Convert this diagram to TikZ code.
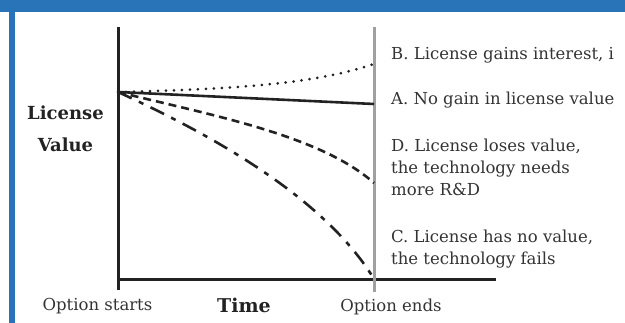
\documentclass[tikz,border=0pt]{standalone}
\usepackage{fontspec}
\setmainfont{DejaVu Serif}
\definecolor{band}{RGB}{41,116,184}
\definecolor{ink}{RGB}{34,34,34}
\definecolor{txt}{RGB}{51,51,51}
\definecolor{endline}{RGB}{160,160,160}
\begin{document}
\begin{tikzpicture}[x=1pt,y=-1pt,
  axis/.style={draw=ink,line width=3pt},
  marker/.style={draw=endline,line width=3pt},
  curve/.style={draw=ink,line width=2.6pt},
  lbl/.style={text=txt,inner sep=0pt,align=left,
    font=\fontsize{16.5}{22}\selectfont},
  axiscap/.style={text=txt,inner sep=0pt,font=\fontsize{16.5}{22}\selectfont},
  heading/.style={text=ink,inner sep=0pt,align=center,
    font=\fontsize{18}{32}\selectfont\bfseries}]
\useasboundingbox (0,0) rectangle (625,323);
% frame bands
\fill[band] (0,0) rectangle (625,12);
\fill[band] (9,12) rectangle (15,323);

% axes and end-of-option marker
\coordinate (ytop) at (118,27);
\coordinate (ybot) at (118,290);
\coordinate (orig) at (118,280);
\coordinate (xend) at (496,280);
\coordinate (gtop) at (374,27);
\coordinate (gbot) at (374,292);
\draw[axis] (ytop) -- (ybot);
\draw[axis] (orig) -- (xend);
\draw[marker] (gtop) -- (gbot);

% value paths
\coordinate (S) at (118,92);
\coordinate (Bend) at (374,64);
\coordinate (Aend) at (374,104);
\coordinate (Dend) at (374,183);
\coordinate (Cend) at (374,279);
\draw[curve,line width=3pt,line cap=round,dash pattern=on 0pt off 8pt]
  (S) .. controls (250,89) and (320,82) .. (Bend);
\draw[curve] (S) -- (Aend);
\draw[curve,dash pattern=on 8pt off 5pt]
  (S) .. controls (210,115) and (320,135) .. (Dend);
\draw[curve,dash pattern=on 15pt off 8pt on 5pt off 8pt]
  (S) .. controls (190,125) and (320,190) .. (Cend);

% outcome labels (base anchor sits on the last line)
\node[lbl,anchor=base west] (labB) at (391,60) {B. License gains interest, i};
\node[lbl,anchor=base west] (labA) at (391,105) {A. No gain in license value};
\node[lbl,anchor=base west] (labD) at (391,196) {D. License loses value,\\the technology needs\\more R\&D};
\node[lbl,anchor=base west] (labC) at (391,265) {C. License has no value,\\the technology fails};

% axis captions
\node[axiscap,anchor=base] (start) at (97.5,311) {Option starts};
\node[axiscap,anchor=base] (finish) at (391,312) {Option ends};
\node[heading,anchor=base,font=\fontsize{19}{32}\selectfont\bfseries] (time) at (244,313) {Time};
\node[heading,anchor=base] (value) at (65.5,152) {License\\Value};
\end{tikzpicture}
\end{document}
